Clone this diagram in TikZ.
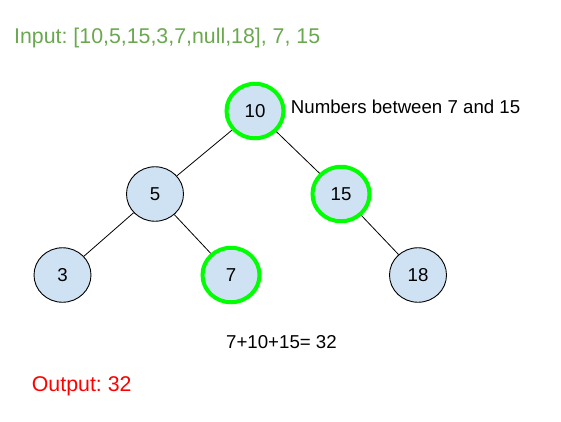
\documentclass[tikz,border=0pt]{standalone}
\usepackage{fontspec}
\setmainfont{Liberation Sans}
\usetikzlibrary{shapes.geometric}
\definecolor{nodefill}{HTML}{CFE2F3}
\definecolor{hitgreen}{HTML}{00FF00}
\definecolor{inputgreen}{HTML}{6AA84F}
\definecolor{outputred}{HTML}{FF0000}
\frenchspacing
\begin{document}
\begin{tikzpicture}[
    x=1pt, y=-1pt,
    font=\fontsize{18.67}{22}\selectfont,
    bst node/.style={ellipse, draw=black, line width=0.9pt, fill=nodefill,
      minimum width=57pt, minimum height=54.5pt, inner sep=0pt},
    in range/.style={draw=hitgreen, line width=4pt},
    note/.style={anchor=base west, inner sep=0pt},
    big note/.style={note, font=\fontsize{21.33}{25}\selectfont}
  ]
  \useasboundingbox (0,0) rectangle (561,421);
  % the tree
  \node [bst node, in range] (n10) at (255,111) {10};
  \node [bst node] (n5) at (155,194) {5};
  \node [bst node, in range] (n15) at (341,194) {15};
  \node [bst node] (n3) at (62.5,275) {3};
  \node [bst node, in range] (n7) at (231,275) {7};
  \node [bst node] (n18) at (418,275) {18};
  \draw [line width=0.8pt] (n10) -- (n5);
  \draw [line width=0.8pt] (n10) -- (n15);
  \draw [line width=0.8pt] (n5) -- (n3);
  \draw [line width=0.8pt] (n5) -- (n7);
  \draw [line width=0.8pt] (n15) -- (n18);
  % texts
  \node [big note, inputgreen] (input) at (14,43.3) {Input: [10,5,15,3,7,null,18], 7, 15};
  \node [note] (range) at (290.7,113.3) {Numbers between 7 and 15};
  \node [note] (sum) at (226,348.3) {7+10+15= 32};
  \node [big note, outputred] (output) at (31.7,391.7) {Output: 32};
\end{tikzpicture}
\end{document}
